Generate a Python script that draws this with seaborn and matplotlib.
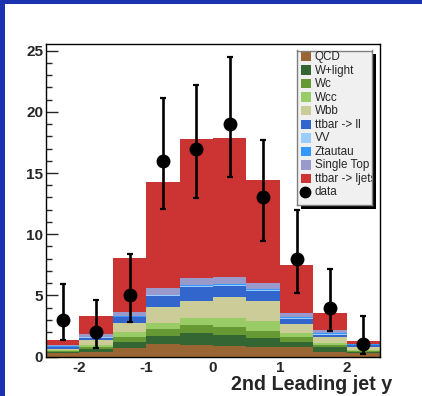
import numpy as np
import pandas as pd
import matplotlib
matplotlib.use("Agg")
import matplotlib.pyplot as plt
from matplotlib.patches import Rectangle
from matplotlib.lines import Line2D
import seaborn as sns

# ---- binning (2nd leading jet rapidity) ----
bin_edges = [-2.5, -2.0, -1.5, -1.0, -0.5, 0.0, 0.5, 1.0, 1.5, 2.0, 2.5]

# ---- expected events per bin, one array per process ----
qcd        = [0.27, 0.37, 0.67, 1.02, 0.94, 0.86, 0.75, 0.80, 0.39, 0.27]
w_light    = [0.10, 0.22, 0.54, 0.68, 0.95, 0.90, 0.74, 0.41, 0.36, 0.08]
wc         = [0.08, 0.16, 0.36, 0.54, 0.67, 0.68, 0.61, 0.35, 0.16, 0.07]
wcc        = [0.08, 0.17, 0.45, 0.47, 0.61, 0.73, 0.80, 0.38, 0.17, 0.13]
wbb        = [0.12, 0.43, 0.74, 1.37, 1.39, 1.71, 1.63, 0.71, 0.54, 0.25]
ttbar_ll   = [0.13, 0.18, 0.44, 0.88, 1.14, 0.90, 0.84, 0.41, 0.16, 0.15]
vv         = [0.02, 0.03, 0.04, 0.03, 0.06, 0.06, 0.06, 0.08, 0.06, 0.03]
ztautau    = [0.03, 0.06, 0.07, 0.06, 0.08, 0.08, 0.08, 0.10, 0.06, 0.02]
single_top = [0.12, 0.22, 0.35, 0.55, 0.59, 0.59, 0.47, 0.33, 0.26, 0.05]
ttbar_lj   = [0.40, 1.47, 4.36, 8.63, 11.32, 11.34, 8.42, 3.90, 1.37, 0.22]

# ---- observed data with asymmetric Poisson errors ----
data_counts = [3, 2, 5, 16, 17, 19, 13, 8, 4, 1]
data_err_lo = [1.63, 1.29, 2.16, 3.96, 4.08, 4.33, 3.58, 2.77, 1.91, 0.83]
data_err_hi = [2.92, 2.64, 3.38, 5.10, 5.22, 5.47, 4.67, 3.98, 3.16, 2.30]

process_names = ["QCD", "W+light", "Wc", "Wcc", "Wbb", "ttbar -> ll", "VV",
                 "Ztautau", "Single Top", "ttbar -> ljets"]
process_values = [qcd, w_light, wc, wcc, wbb, ttbar_ll, vv, ztautau,
                  single_top, ttbar_lj]
process_colors = ["#996633", "#336633", "#669933", "#99cc66", "#cccc99",
                  "#3366cc", "#99ccff", "#3399ff", "#9999cc", "#cc3333"]

x_ticks = [-2, -1, 0, 1, 2]
y_ticks = [0, 5, 10, 15, 20, 25]

W, H = 422, 396
centers = [(a + b) / 2 for a, b in zip(bin_edges[:-1], bin_edges[1:])]

rows = []
for name, vals in zip(process_names, process_values):
    for c, v in zip(centers, vals):
        rows.append({"y": c, "events": v, "process": name})
df = pd.DataFrame(rows)
palette = dict(zip(process_names, process_colors))

sns.set_style("white")
plt.rcParams["font.family"] = ["Liberation Sans", "DejaVu Sans"]


def fx(px):
    return px / W


def fy(py):
    return 1 - py / H


fig = plt.figure(figsize=(W / 100, H / 100), dpi=100)
fig.patch.set_facecolor("white")

# blue frame strips on the left and top
frame_blue = "#1b33b1"
fig.patches.append(Rectangle((0, 0), fx(4.5), 1, transform=fig.transFigure,
                             facecolor=frame_blue, edgecolor="none", zorder=0))
fig.patches.append(Rectangle((0, fy(3.5)), 1, 1 - fy(3.5), transform=fig.transFigure,
                             facecolor=frame_blue, edgecolor="none", zorder=0))

ax_l, ax_r, ax_t, ax_b = 46, 380, 43.7, 356.5
ax = fig.add_axes([fx(ax_l), fy(ax_b), fx(ax_r - ax_l), (ax_b - ax_t) / H])

# stacked expectation: seaborn stacks the last hue level at the bottom
sns.histplot(data=df, x="y", weights="events", hue="process",
             hue_order=process_names[::-1], palette=palette,
             bins=bin_edges, multiple="stack", element="bars",
             linewidth=0, alpha=1, shrink=1, legend=False, ax=ax, zorder=1)

ax.errorbar(centers, data_counts, yerr=[data_err_lo, data_err_hi], fmt="o",
            color="black", ms=9, elinewidth=1.9, capsize=2.3, capthick=1.6,
            zorder=5)

ax.set_xlim(-2.5, 2.5)
ax.set_ylim(0, 25.57)
ax.set_xlabel("")
ax.set_ylabel("")
ax.set_xticks(x_ticks)
ax.set_xticklabels([str(t) for t in x_ticks])
ax.set_yticks(y_ticks)
ax.set_yticklabels([str(t) for t in y_ticks])
ax.set_yticks(np.arange(0, 26, 1), minor=True)
ax.tick_params(axis="x", length=0, pad=3.5, labelsize=11)
ax.tick_params(axis="y", which="major", direction="in", length=8.5, width=1,
               pad=2, labelsize=11, left=True)
ax.tick_params(axis="y", which="minor", direction="in", length=4, width=1,
               left=True)
for lab in ax.get_xticklabels() + ax.get_yticklabels():
    lab.set_fontweight("bold")
for sp in ax.spines.values():
    sp.set_color("black")
    sp.set_linewidth(1.0)
    sp.set_visible(True)
ax.grid(False)

fig.text(fx(392), fy(390), "2nd Leading jet y", ha="right", va="baseline",
         fontsize=14.2, fontweight="bold")

# legend box with a drop shadow
lg_l, lg_r, lg_t, lg_b = 297, 372, 50.5, 205
fig.patches.append(Rectangle((fx(lg_l + 3.5), fy(lg_b + 3.5)), fx(lg_r - lg_l),
                             (lg_b - lg_t) / H, transform=fig.transFigure,
                             facecolor="black", edgecolor="none", zorder=10))
lax = fig.add_axes([fx(lg_l), fy(lg_b), fx(lg_r - lg_l), (lg_b - lg_t) / H],
                   zorder=11)
lax.set_facecolor("#f0f0f0")
lax.set_xlim(lg_l, lg_r)
lax.set_ylim(lg_b, lg_t)
lax.set_xticks([])
lax.set_yticks([])
for sp in lax.spines.values():
    sp.set_color("#808080")
    sp.set_linewidth(1.0)

entry_y0, entry_dy = 56.5, 13.55
for i, (name, col) in enumerate(zip(process_names, process_colors)):
    yc = entry_y0 + i * entry_dy
    lax.add_patch(Rectangle((301, yc - 4.7), 10, 9.4, facecolor=col,
                            edgecolor="none"))
    lax.text(315, yc + 0.5, name, ha="left", va="center", fontsize=8.4,
             clip_on=True)
yc = entry_y0 + len(process_names) * entry_dy
lax.add_line(Line2D([305.5], [yc], marker="o", color="black", ms=7.5))
lax.text(315, yc + 0.5, "data", ha="left", va="center", fontsize=8.4,
         clip_on=True)

fig.savefig("out.png", dpi=100)
